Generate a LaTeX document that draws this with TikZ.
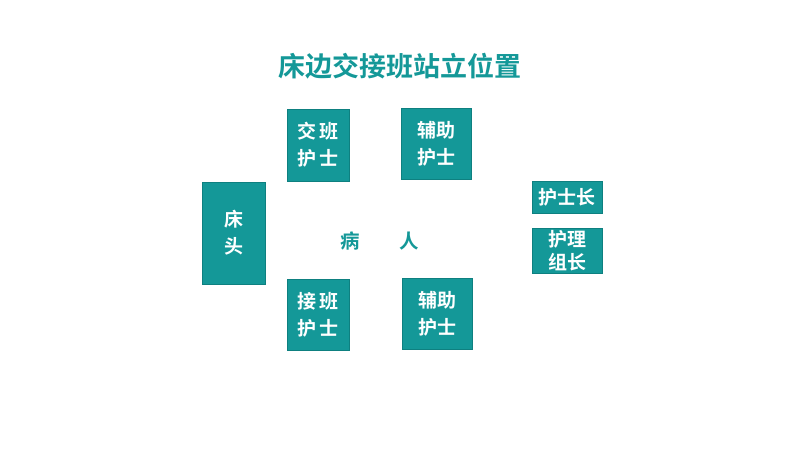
\documentclass[tikz,border=0pt]{standalone}
\usepackage{fontspec}
\newfontfamily\cjk{Noto Sans CJK SC}[BoldFont={Noto Sans CJK SC Bold}]
\definecolor{tealbox}{RGB}{20,152,152}
\definecolor{tealline}{RGB}{14,128,128}
\tikzset{every picture/.style={line width=0.75pt}}
\tikzset{
  posbox/.style={draw=tealline, line width=0.6pt, fill=tealbox, text=white, font=\cjk\bfseries\fontsize{19}{27}\selectfont, align=center, inner sep=0pt},
  patient/.style={text=tealbox, font=\cjk\bfseries\fontsize{19.5}{23}\selectfont, inner sep=0pt}
}

\begin{document}
\begin{tikzpicture}[x=1pt,y=1pt,yscale=-1,xscale=1]
    \useasboundingbox (0,0) rectangle (800,450);

    % Title
    \node (title) at (400,66) [text=tealbox, font=\cjk\bfseries\fontsize{27}{30}\selectfont, inner sep=0pt] {床边交接班站立位置};

    % Shape: bed head
    \node (bedhead) at (233.5,233) [posbox, minimum width=63, minimum height=102] {床\\头};
    % Shape: handing-over nurse
    \node (handover) at (318,145) [posbox, minimum width=62, minimum height=72] {交\,班\\护\,士};
    % Shape: assistant nurse (top)
    \node (assisttop) at (436,143.5) [posbox, minimum width=70, minimum height=71] {辅助\\护士};
    % Shape: taking-over nurse
    \node (takeover) at (318,314.5) [posbox, minimum width=62, minimum height=71] {接\,班\\护\,士};
    % Shape: assistant nurse (bottom)
    \node (assistbot) at (437,313.5) [posbox, minimum width=70, minimum height=71] {辅助\\护士};
    % Shape: head nurse
    \node (headnurse) at (567,197) [posbox, minimum width=70, minimum height=32] {护士长};
    % Shape: nursing group leader
    \node (groupleader) at (567,250.5) [posbox, minimum width=70, minimum height=45, font=\cjk\bfseries\fontsize{19}{23}\selectfont] {护理\\组长};

    % Text Node
    \node (bing) at (350,241) [patient] {病};
    % Text Node
    \node (ren) at (409,241) [patient] {人};

\end{tikzpicture}
\end{document}
